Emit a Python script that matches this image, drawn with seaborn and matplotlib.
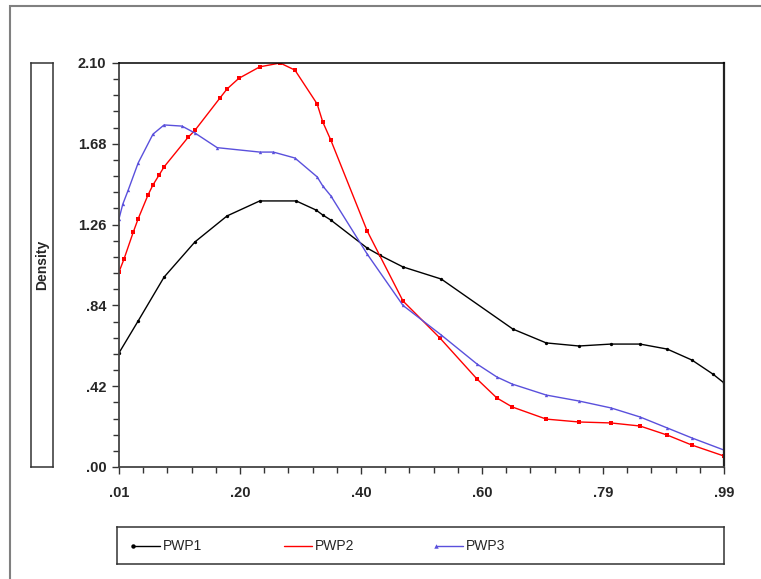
import matplotlib
matplotlib.use("Agg")
import matplotlib.pyplot as plt
from matplotlib.patches import Rectangle
import numpy as np
import pandas as pd
import seaborn as sns

# values
pwp1_x = [0.01, 0.041, 0.083, 0.133, 0.185, 0.238, 0.297, 0.329, 0.34, 0.353, 0.412, 0.433,
          0.47, 0.532, 0.648, 0.702, 0.755, 0.807, 0.854, 0.898, 0.938, 0.972, 0.99]
pwp1_y = [0.593, 0.759, 0.987, 1.17, 1.305, 1.383, 1.383, 1.336, 1.31, 1.284, 1.138, 1.10,
          1.04, 0.977, 0.717, 0.645, 0.629, 0.639, 0.639, 0.613, 0.556, 0.483, 0.437]

pwp2_x = [0.01, 0.018, 0.033, 0.041, 0.057, 0.065, 0.075, 0.083, 0.122, 0.133, 0.174, 0.185,
          0.204, 0.238, 0.271, 0.295, 0.331, 0.34, 0.353, 0.412, 0.47, 0.53, 0.59, 0.622,
          0.647, 0.702, 0.755, 0.807, 0.854, 0.898, 0.938, 0.99]
pwp2_y = [1.014, 1.08, 1.22, 1.29, 1.414, 1.466, 1.518, 1.56, 1.714, 1.75, 1.92, 1.965,
          2.02, 2.08, 2.10, 2.063, 1.887, 1.794, 1.70, 1.227, 0.863, 0.67, 0.457, 0.359,
          0.312, 0.249, 0.234, 0.229, 0.213, 0.166, 0.114, 0.057]

pwp3_x = [0.01, 0.016, 0.025, 0.041, 0.065, 0.083, 0.112, 0.133, 0.169, 0.238, 0.26, 0.295,
          0.331, 0.34, 0.353, 0.412, 0.47, 0.532, 0.59, 0.622, 0.647, 0.702, 0.755, 0.807,
          0.854, 0.898, 0.938, 0.99]
pwp3_y = [1.29, 1.365, 1.44, 1.58, 1.73, 1.778, 1.772, 1.736, 1.66, 1.637, 1.637, 1.606,
          1.508, 1.461, 1.41, 1.107, 0.84, 0.686, 0.535, 0.468, 0.431, 0.374, 0.343, 0.307,
          0.26, 0.203, 0.151, 0.088]

series_names = ["PWP1", "PWP2", "PWP3"]
x_tick_labels = [".01", ".20", ".40", ".60", ".79", ".99"]
y_tick_labels = [".00", ".42", ".84", "1.26", "1.68", "2.10"]

colors = {"PWP1": "black", "PWP2": "#ff0000", "PWP3": "#5a50dc"}
marks = {"PWP1": "o", "PWP2": "s", "PWP3": "^"}

df = pd.concat([
    pd.DataFrame({"x": pwp1_x, "density": pwp1_y, "series": "PWP1"}),
    pd.DataFrame({"x": pwp2_x, "density": pwp2_y, "series": "PWP2"}),
    pd.DataFrame({"x": pwp3_x, "density": pwp3_y, "series": "PWP3"}),
])

sns.set_style("white")
plt.rcParams["font.family"] = ["Liberation Sans", "DejaVu Sans"]

W, H = 761, 579
fig = plt.figure(figsize=(W / 100, H / 100), dpi=100)

# outer gray frame (only left and top edges are visible)
fig.add_artist(Rectangle((10 / W, -0.2), 1.2, 1 - 6 / H + 0.2, transform=fig.transFigure,
                         fill=False, edgecolor="#808080", lw=1.5))

ax = fig.add_axes([119 / W, 1 - 467 / H, (724 - 119) / W, (467 - 63) / H])
sns.lineplot(data=df, x="x", y="density", hue="series", style="series",
             palette=colors, markers=marks, dashes=False, markersize=2.4,
             markeredgewidth=0, linewidth=1.0, estimator=None, sort=False,
             legend=False, ax=ax)

ax.set_xlim(0.01, 0.99)
ax.set_ylim(0, 2.1)
ax.set_xticks(np.linspace(0.01, 0.99, 6))
ax.set_xticklabels(x_tick_labels)
ax.set_xticks(np.linspace(0.01, 0.99, 26), minor=True)
ax.set_yticks(np.linspace(0, 2.1, 6))
ax.set_yticklabels(y_tick_labels)
ax.set_yticks(np.linspace(0, 2.1, 26), minor=True)
ax.set_xlabel("")
ax.set_ylabel("")

for lab in ax.get_xticklabels() + ax.get_yticklabels():
    lab.set_fontweight("bold")
    lab.set_fontsize(10.5)
ax.tick_params(which="major", direction="out", length=5, width=1, color="#333333")
ax.tick_params(which="minor", direction="out", length=4, width=1, color="#333333")
ax.tick_params(axis="x", which="both", bottom=True, pad=9)
ax.tick_params(axis="y", which="both", left=True, pad=4)
for side in ["top", "right"]:
    ax.spines[side].set_color("black")
    ax.spines[side].set_linewidth(1.1)
for side in ["left", "bottom"]:
    ax.spines[side].set_color("#444444")
    ax.spines[side].set_linewidth(1.3)
ax.spines["right"].set_linewidth(1.6)
ax.spines["right"].set_color("#222222")

# y label inside its own box
ax_lab = fig.add_axes([31 / W, 1 - 467 / H, 22 / W, (467 - 63) / H])
ax_lab.set_xticks([])
ax_lab.set_yticks([])
for s in ax_lab.spines.values():
    s.set_color("#333333")
    s.set_linewidth(1.1)
ax_lab.text(0.5, 0.5, "Density", rotation=90, ha="center", va="center",
            fontsize=10, fontweight="bold", transform=ax_lab.transAxes)

# legend box under the plot
ax_leg = fig.add_axes([117 / W, 1 - 564 / H, (724 - 117) / W, 37 / H])
ax_leg.set_xlim(117, 724)
ax_leg.set_ylim(0, 37)
ax_leg.set_xticks([])
ax_leg.set_yticks([])
for s in ax_leg.spines.values():
    s.set_color("#333333")
    s.set_linewidth(1.1)
leg_pos = {"PWP1": (133, 160, 163), "PWP2": (284, 312, 315), "PWP3": (436, 463, 466)}
for name in series_names:
    x0, x1, xt = leg_pos[name]
    mk = None if name == "PWP2" else marks[name]
    ax_leg.plot([x0, x1], [18.5, 18.5], color=colors[name], lw=1.0,
                marker=mk, markevery=[0], markersize=3.2, markeredgewidth=0)
    ax_leg.text(xt, 18.5, name, ha="left", va="center", fontsize=10)

fig.savefig("out.png", dpi=100)
